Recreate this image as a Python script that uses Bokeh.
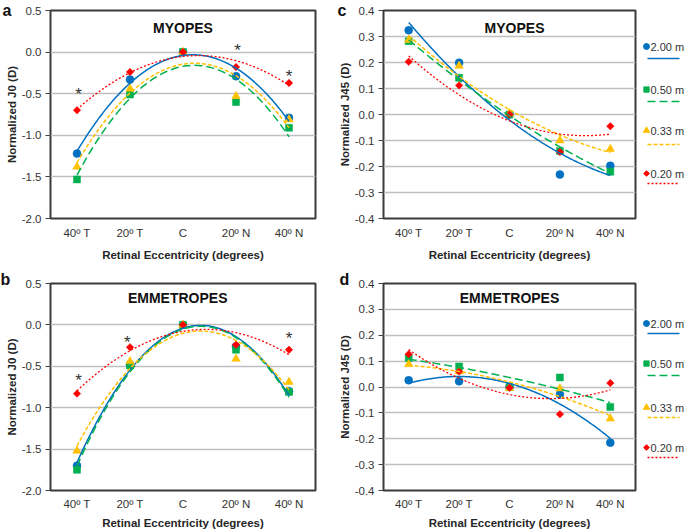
import numpy as np
from bokeh.plotting import figure
from bokeh.models import Range1d, FixedTicker, PrintfTickFormatter
from bokeh.layouts import row, column
from bokeh.embed import file_html
from bokeh.resources import INLINE
from bokeh.core.properties import value

# ---------------- data ----------------
categories = ["40º T", "20º T", "C", "20º N", "40º N"]
distances = ["2.00 m", "0.50 m", "0.33 m", "0.20 m"]

# a: myopes, J0
myo_j0_200 = [-1.22, -0.33, 0.0, -0.29, -0.79]
myo_j0_050 = [-1.53, -0.51, 0.0, -0.60, -0.91]
myo_j0_033 = [-1.38, -0.44, 0.0, -0.53, -0.81]
myo_j0_020 = [-0.70, -0.24, 0.0, -0.18, -0.37]
# b: emmetropes, J0
emm_j0_200 = [-1.70, -0.48, 0.0, -0.26, -0.80]
emm_j0_050 = [-1.75, -0.49, 0.0, -0.30, -0.81]
emm_j0_033 = [-1.52, -0.44, 0.0, -0.41, -0.69]
emm_j0_020 = [-0.83, -0.27, 0.0, -0.24, -0.30]
# c: myopes, J45
myo_j45_200 = [0.324, 0.199, 0.0, -0.231, -0.197]
myo_j45_050 = [0.282, 0.141, 0.0, -0.140, -0.220]
myo_j45_033 = [0.286, 0.187, 0.004, -0.100, -0.133]
myo_j45_020 = [0.203, 0.112, 0.0, -0.144, -0.045]
# d: emmetropes, J45
emm_j45_200 = [0.026, 0.022, 0.0, -0.029, -0.215]
emm_j45_050 = [0.112, 0.079, 0.0, 0.037, -0.077]
emm_j45_033 = [0.088, 0.060, -0.004, -0.006, -0.122]
emm_j45_020 = [0.127, 0.060, -0.003, -0.105, 0.015]

# significance asterisks (category index, value)
star_a_x = [0.03, 3.03, 4]
star_a_y = [-0.45, 0.07, -0.24]
star_b_x = [0.03, 0.95, 4]
star_b_y = [-0.62, -0.16, -0.11]

j0_ticks = [-2.0, -1.5, -1.0, -0.5, 0.0, 0.5]
j45_ticks = [-0.4, -0.3, -0.2, -0.1, 0.0, 0.1, 0.2, 0.3, 0.4]

# ---------------- styles ----------------
FONT = "Liberation Sans"
colors = ["#0070C0", "#00B050", "#FFC000", "#FF0000"]
markers = ["circle", "square", "triangle", "square"]
angles = [0, 0, 0, np.pi / 4]
msizes = [8, 7, 8.5, 5.3]
dashes = ["solid", "8 4", "4 2", "2 2"]
widths = [1.5, 1.5, 1.5, 1.3]

xs = list(range(len(categories)))


def make_panel(series, yticks, ylabel, group, letter, top, bottom, left, right,
               width, height, lab_standoff, title_standoff, title_xy,
               letter_offset, letter_standoff, stars=None):
    p = figure(width=width, height=height, output_backend="svg", toolbar_location=None,
               x_range=Range1d(-0.5, len(categories) - 0.5),
               y_range=Range1d(yticks[0], yticks[-1]),
               min_border_top=top, min_border_bottom=bottom,
               min_border_left=left, min_border_right=right)
    # panel letter as the figure title, pushed into the top-left corner
    p.title.text = letter
    p.title.align = "left"
    p.title.vertical_align = "middle"
    p.title.offset = letter_offset
    p.title.standoff = letter_standoff
    p.title.text_font = FONT
    p.title.text_font_size = "16px"
    p.title.text_font_style = "bold"
    p.title.text_color = "#111111"

    p.background_fill_color = "white"
    p.outline_line_color = "#3a3a3a"
    p.outline_line_width = 2
    p.xgrid.grid_line_color = None
    p.ygrid.grid_line_color = "#BFBFBF"
    p.ygrid.grid_line_width = 1.6
    p.ygrid.ticker = FixedTicker(ticks=yticks)

    p.xaxis.ticker = FixedTicker(ticks=xs)
    p.xaxis.major_label_overrides = {i: c for i, c in enumerate(categories)}
    p.xaxis.major_tick_out = 0
    p.xaxis.major_tick_in = 0
    p.xaxis.minor_tick_line_color = None
    p.xaxis.axis_line_color = None
    p.xaxis.major_label_standoff = lab_standoff
    p.xaxis.axis_label = "Retinal Eccentricity (degrees)"
    p.xaxis.axis_label_standoff = title_standoff

    p.yaxis.ticker = FixedTicker(ticks=yticks)
    p.yaxis.formatter = PrintfTickFormatter(format="%.1f")
    p.yaxis.major_tick_out = 5
    p.yaxis.major_tick_in = 0
    p.yaxis.major_tick_line_color = "#404040"
    p.yaxis.major_tick_line_width = 1.2
    p.yaxis.minor_tick_line_color = None
    p.yaxis.axis_line_color = None
    p.yaxis.major_label_standoff = 4
    p.yaxis.axis_label = ylabel
    p.yaxis.axis_label_standoff = 1

    for ax in (p.xaxis, p.yaxis):
        ax.major_label_text_font = FONT
        ax.major_label_text_font_size = "11.5px"
        ax.major_label_text_color = "#333333"
        ax.axis_label_text_font = FONT
        ax.axis_label_text_font_size = "11.5px"
        ax.axis_label_text_font_style = "bold"
        ax.axis_label_text_color = "#262626"

    # points
    for ys, c, m, s, a in zip(series, colors, markers, msizes, angles):
        p.scatter(xs, ys, marker=m, size=s, angle=a, fill_color=c, line_color=c,
                  line_width=0.5)
    # polynomial (2nd order) trendlines fitted to each series
    xf = np.linspace(0, len(categories) - 1, 121)
    for ys, c, d, w in zip(series, colors, dashes, widths):
        coef = np.polyfit(xs, ys, 2)
        p.line(xf, np.polyval(coef, xf), line_color=c, line_width=w, line_dash=d)

    if stars is not None:
        p.text(stars[0], stars[1], text=["*"] * len(stars[0]), text_font=value(FONT),
               text_font_size="17px", text_color="#333333", text_align="center",
               text_baseline="middle", y_offset=4.5)

    p.text([title_xy[0]], [title_xy[1]], text=[group], text_font=value(FONT),
           text_font_size="14px", text_font_style="bold", text_color="#111111",
           text_align="center", text_baseline="middle")
    return p


def make_legend(height, text_y, line_y):
    lp = figure(width=44, height=height, output_backend="svg", toolbar_location=None,
                x_range=Range1d(0, 44), y_range=Range1d(height, 0),
                x_axis_type=None, y_axis_type=None, min_border=0)
    lp.grid.visible = False
    lp.outline_line_color = None
    for i in range(len(distances)):
        lp.scatter([6], [text_y[i]], marker=markers[i], size=msizes[i] * 0.75,
                   angle=angles[i], fill_color=colors[i], line_color=colors[i])
        lp.text([10], [text_y[i]], text=[distances[i]], text_font=value(FONT),
                text_font_size="11px", text_color="#333333", text_baseline="middle")
        lp.line([7, 39], [line_y[i], line_y[i]], line_color=colors[i], line_width=widths[i],
                line_dash=dashes[i])
    return lp


TOP_H, BOT_H = 266, 265

pa = make_panel([myo_j0_200, myo_j0_050, myo_j0_033, myo_j0_020], j0_ticks,
                "Normalized J0 (D)", "MYOPES", "a", 10, 48, 50, 20, 335, TOP_H, 8, 7,
                (2.0, 0.284), -48, -18, stars=(star_a_x, star_a_y))
pb = make_panel([emm_j0_200, emm_j0_050, emm_j0_033, emm_j0_020], j0_ticks,
                "Normalized J0 (D)", "EMMETROPES", "b", 17, 39, 50, 20, 335, BOT_H, 7, 4,
                (1.9, 0.32), -50, -10, stars=(star_b_x, star_b_y))
pc = make_panel([myo_j45_200, myo_j45_050, myo_j45_033, myo_j45_020], j45_ticks,
                "Normalized J45 (D)", "MYOPES", "c", 10, 48, 47, 5, 305, TOP_H, 8, 7,
                (2.1, 0.331), -46, -18)
pd_ = make_panel([emm_j45_200, emm_j45_050, emm_j45_033, emm_j45_020], j45_ticks,
                 "Normalized J45 (D)", "EMMETROPES", "d", 17, 39, 47, 5, 305, BOT_H, 7, 4,
                 (2.0, 0.343), -44, -10)

lc = make_legend(TOP_H, [46, 89, 130, 173], [58, 101, 144, 183])
ld = make_legend(BOT_H, [57, 97, 141, 181], [67, 109, 151, 191])

layout = row(column(pa, pb), column(pc, pd_), column(lc, ld))

open("out.html", "w").write(file_html(layout, INLINE))
